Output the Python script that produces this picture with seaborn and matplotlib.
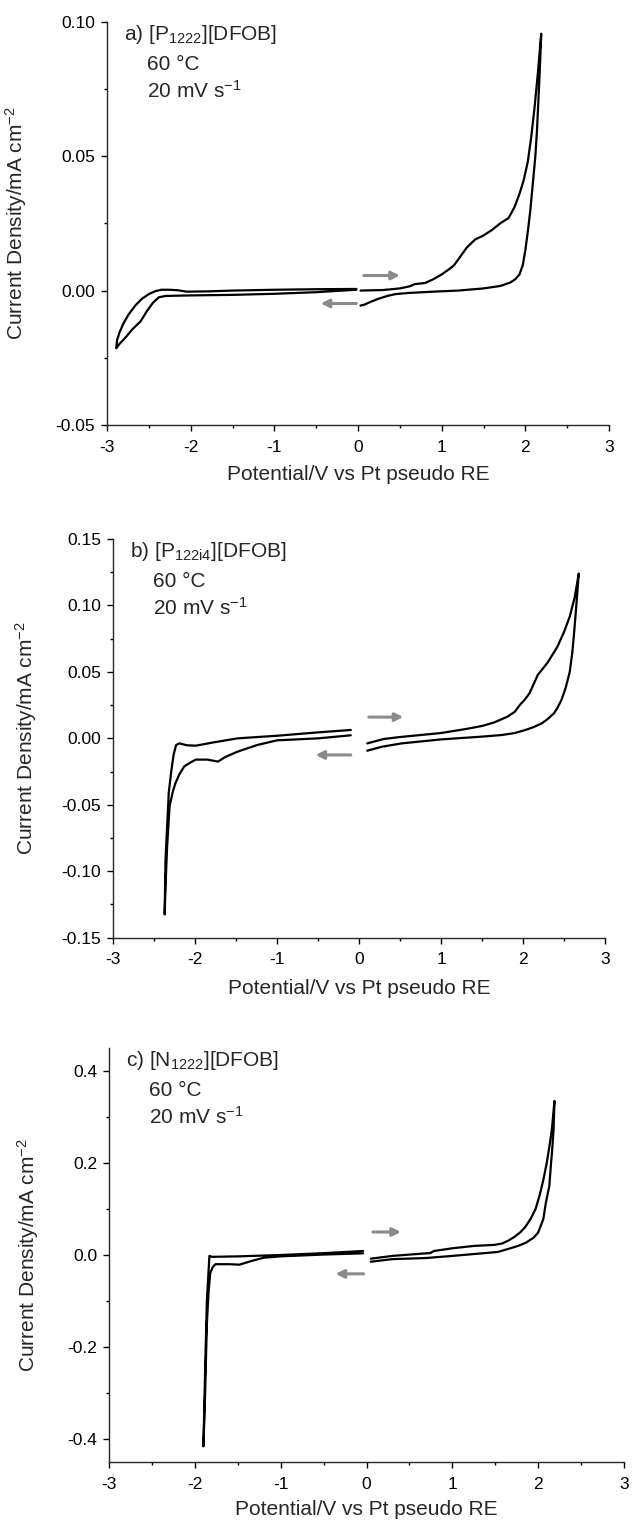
import numpy as np
import pandas as pd
import matplotlib
matplotlib.use("Agg")
import matplotlib.pyplot as plt
import seaborn as sns
from matplotlib.ticker import MultipleLocator

# ---------------- data ----------------
# Panel a: [P1222][DFOB]
a_pos_E = [0.03, 0.3, 0.5, 0.62, 0.68, 0.8, 0.9, 1.0, 1.1, 1.15, 1.22, 1.3, 1.4, 1.5, 1.6, 1.7, 1.8,
           1.87, 1.93, 1.98, 2.03, 2.07, 2.11, 2.15, 2.19,
           2.17, 2.14, 2.12, 2.09, 2.06, 2.03, 2.0, 1.97, 1.93, 1.88, 1.82, 1.7, 1.5, 1.2, 0.9, 0.6,
           0.45, 0.35, 0.25, 0.15, 0.08, 0.03]
a_pos_j = [0.0, 0.0002, 0.0008, 0.0016, 0.0024, 0.0028, 0.0042, 0.006, 0.0082, 0.0095, 0.0125, 0.016,
           0.019, 0.0205, 0.0225, 0.025, 0.027, 0.031, 0.036, 0.041, 0.048, 0.057, 0.068, 0.081, 0.0955,
           0.08, 0.06, 0.05, 0.04, 0.03, 0.022, 0.015, 0.0095, 0.006, 0.0042, 0.003, 0.0017, 0.0008,
           0.0, -0.0004, -0.0009, -0.0013, -0.002, -0.003, -0.0042, -0.0052, -0.0056]
a_neg_E = [-0.02, -0.5, -1.0, -1.5, -2.0, -2.3, -2.38, -2.45, -2.52, -2.6, -2.65, -2.7, -2.78, -2.85,
           -2.89, -2.88, -2.85, -2.8, -2.74, -2.66, -2.58, -2.5, -2.42, -2.35, -2.25, -2.15, -2.05,
           -1.8, -1.5, -1.0, -0.5, -0.02]
a_neg_j = [0.0003, -0.0006, -0.0012, -0.0016, -0.0018, -0.002, -0.0025, -0.0045, -0.0075, -0.0115,
           -0.013, -0.0145, -0.0175, -0.0198, -0.0215, -0.0185, -0.0155, -0.012, -0.0088, -0.0055,
           -0.003, -0.0013, -0.0002, 0.0003, 0.0003, 0.0001, -0.0004, -0.0003, 0.0, 0.0003, 0.0005,
           0.0006]

# Panel b: [P122i4][DFOB]
b_pos_E = [0.1, 0.3, 0.5, 0.75, 1.0, 1.3, 1.5, 1.65, 1.81, 1.9, 1.96, 2.02, 2.08, 2.18, 2.3, 2.42,
           2.5, 2.57, 2.63, 2.68,
           2.66, 2.64, 2.62, 2.6, 2.57, 2.52, 2.47, 2.42, 2.38, 2.3, 2.23, 2.13, 2.03, 1.9, 1.74,
           1.5, 1.0, 0.52, 0.28, 0.1]
b_pos_j = [-0.0038, -0.0005, 0.001, 0.0025, 0.004, 0.007, 0.0093, 0.012, 0.0163, 0.02, 0.025, 0.029,
           0.034, 0.0477, 0.057, 0.069, 0.08, 0.0916, 0.106, 0.124,
           0.108, 0.092, 0.077, 0.064, 0.05, 0.038, 0.029, 0.023, 0.019, 0.0145, 0.0113, 0.0085,
           0.0063, 0.004, 0.0025, 0.0013, -0.0008, -0.0038, -0.0063, -0.0093]
b_neg_E = [-0.1, -0.5, -0.99, -1.48, -1.77, -1.99, -2.1, -2.19, -2.23, -2.26, -2.29, -2.32, -2.36,
           -2.37,
           -2.36, -2.34, -2.31, -2.27, -2.24, -2.19, -2.13, -2.05, -1.99, -1.85, -1.72, -1.63, -1.48,
           -1.24, -1.0, -0.5, -0.1]
b_neg_j = [0.0063, 0.0045, 0.002, 0.0, -0.003, -0.0055, -0.0052, -0.0038, -0.005, -0.012, -0.025,
           -0.041, -0.0916, -0.1325,
           -0.112, -0.0815, -0.051, -0.04, -0.034, -0.027, -0.021, -0.018, -0.016, -0.016, -0.0175,
           -0.014, -0.01, -0.005, -0.0015, 0.0, 0.0023]

# Panel c: [N1222][DFOB]
c_pos_E = [0.05, 0.3, 0.69, 0.74, 0.785, 1.0, 1.25, 1.49, 1.58, 1.65, 1.72, 1.79, 1.85, 1.91, 1.97,
           2.02, 2.06, 2.1, 2.13, 2.16, 2.19,
           2.18, 2.16, 2.15, 2.13, 2.09, 2.06, 2.0, 1.95, 1.86, 1.77, 1.63, 1.53, 1.0, 0.69, 0.3, 0.05]
c_pos_j = [-0.008, -0.002, 0.0036, 0.004, 0.0087, 0.0146, 0.0197, 0.022, 0.025, 0.031, 0.039, 0.049,
           0.061, 0.078, 0.1, 0.132, 0.163, 0.2, 0.235, 0.274, 0.335,
           0.274, 0.22, 0.2, 0.15, 0.114, 0.078, 0.049, 0.038, 0.027, 0.02, 0.012, 0.0066, -0.002,
           -0.0066, -0.009, -0.0146]
c_neg_E = [-0.04, -0.5, -1.0, -1.5, -1.8, -1.83, -1.86, -1.88, -1.9,
           -1.88, -1.86, -1.84, -1.82, -1.79, -1.76, -1.6, -1.48, -1.34, -1.2, -1.0, -0.5, -0.04]
c_neg_j = [0.0087, 0.004, 0.0, -0.003, -0.004, -0.002, -0.1, -0.25, -0.416,
           -0.3, -0.15, -0.08, -0.039, -0.026, -0.02, -0.02, -0.021, -0.013, -0.006, -0.003, 0.001,
           0.0036]

x_ticks = [-3, -2, -1, 0, 1, 2, 3]
x_tick_labels = ["-3", "-2", "-1", "0", "1", "2", "3"]
a_yticks = [-0.05, 0.0, 0.05, 0.10]
a_ytick_labels = ["-0.05", "0.00", "0.05", "0.10"]
b_yticks = [-0.15, -0.10, -0.05, 0.0, 0.05, 0.10, 0.15]
b_ytick_labels = ["-0.15", "-0.10", "-0.05", "0.00", "0.05", "0.10", "0.15"]
c_yticks = [-0.4, -0.2, 0.0, 0.2, 0.4]
c_ytick_labels = ["-0.4", "-0.2", "0.0", "0.2", "0.4"]

titles = [r"a) [P$_{1222}$][DFOB]", r"b) [P$_{122i4}$][DFOB]", r"c) [N$_{1222}$][DFOB]"]
temp_text = "60 °C"
rate_text = r"20 mV s$^{-1}$"
xlabel = "Potential/V vs Pt pseudo RE"
ylabel = r"Current Density/mA cm$^{-2}$"

# ---------------- style ----------------
sns.set_style("ticks")
plt.rcParams["font.family"] = ["Liberation Sans", "DejaVu Sans"]
plt.rcParams["mathtext.fontset"] = "custom"
plt.rcParams["mathtext.rm"] = "Liberation Sans"
plt.rcParams["mathtext.it"] = "Liberation Sans:italic"
plt.rcParams["mathtext.bf"] = "Liberation Sans:bold"
plt.rcParams["mathtext.default"] = "regular"
plt.rcParams["axes.unicode_minus"] = False

W, H = 632, 1527
fig = plt.figure(figsize=(W / 100, H / 100), dpi=100)

# axes rectangles in pixels: left, right, top, bottom
rects = [(107, 609, 21.7, 425), (113, 605, 539, 937.7), (109, 624, 1048, 1462)]
ylims = [(-0.05, 0.10), (-0.15, 0.15), (-0.45, 0.45)]
ytick_sets = [(a_yticks, a_ytick_labels, 0.025), (b_yticks, b_ytick_labels, 0.025),
              (c_yticks, c_ytick_labels, 0.1)]
curves = [((a_pos_E, a_pos_j), (a_neg_E, a_neg_j)),
          ((b_pos_E, b_pos_j), (b_neg_E, b_neg_j)),
          ((c_pos_E, c_pos_j), (c_neg_E, c_neg_j))]
arrows = [((0.07, 0.0056), (0.50, 0.0056), (-0.02, -0.0048), (-0.445, -0.0048)),
          ((0.12, 0.016), (0.54, 0.016), (-0.10, -0.0125), (-0.53, -0.0125)),
          ((0.075, 0.050), (0.40, 0.050), (-0.033, -0.041), (-0.36, -0.041))]
ylabel_x = [-0.155, -0.150, -0.132]
xlabel_y_px = [40, 41, 38]

for i in range(3):
    l, r, t, b = rects[i]
    ax = fig.add_axes([l / W, 1 - b / H, (r - l) / W, (b - t) / H])
    for seg_E, seg_j in curves[i]:
        df = pd.DataFrame({"E": seg_E, "j": seg_j})
        sns.lineplot(data=df, x="E", y="j", sort=False, estimator=None, color="black",
                     lw=1.6, ax=ax)
    ax.set_xlim(-3, 3)
    ax.set_ylim(*ylims[i])
    ax.set_xticks(x_ticks)
    ax.set_xticklabels(x_tick_labels)
    yt, ytl, ymin = ytick_sets[i]
    ax.set_yticks(yt)
    ax.set_yticklabels(ytl)
    ax.xaxis.set_minor_locator(MultipleLocator(0.5))
    ax.yaxis.set_minor_locator(MultipleLocator(ymin))
    sns.despine(ax=ax)
    for sp in ("left", "bottom"):
        ax.spines[sp].set_linewidth(1.0)
    ax.tick_params(which="major", direction="out", length=4.5, width=1.0, labelsize=12.5,
                   color="black", labelcolor="black")
    ax.tick_params(which="minor", direction="out", length=2.5, width=1.0, color="black")
    ax.tick_params(axis="x", which="major", pad=6)
    ax.tick_params(axis="y", which="major", pad=4)
    ax.set_xlabel(xlabel, fontsize=15)
    ax.set_ylabel(ylabel, fontsize=15)
    ax.yaxis.set_label_coords(ylabel_x[i], 0.5)
    ax.xaxis.set_label_coords(0.5, -xlabel_y_px[i] / (b - t))

    # annotation text
    ax.annotate(titles[i], xy=(0, 1), xycoords="axes fraction", xytext=(17, -18),
                textcoords="offset pixels", fontsize=15, va="baseline", ha="left")
    ax.annotate(temp_text, xy=(0, 1), xycoords="axes fraction", xytext=(40, -48),
                textcoords="offset pixels", fontsize=15, va="baseline", ha="left")
    ax.annotate(rate_text, xy=(0, 1), xycoords="axes fraction", xytext=(40, -76),
                textcoords="offset pixels", fontsize=15, va="baseline", ha="left")

    # direction arrows
    s1, e1, s2, e2 = arrows[i]
    for s, e in ((s1, e1), (s2, e2)):
        ax.annotate("", xy=e, xytext=s, xycoords="data",
                    arrowprops=dict(arrowstyle="-|>", color="#8a8a8a", lw=2.2,
                                    mutation_scale=12, shrinkA=0, shrinkB=0))

fig.savefig("out.png", dpi=100)
